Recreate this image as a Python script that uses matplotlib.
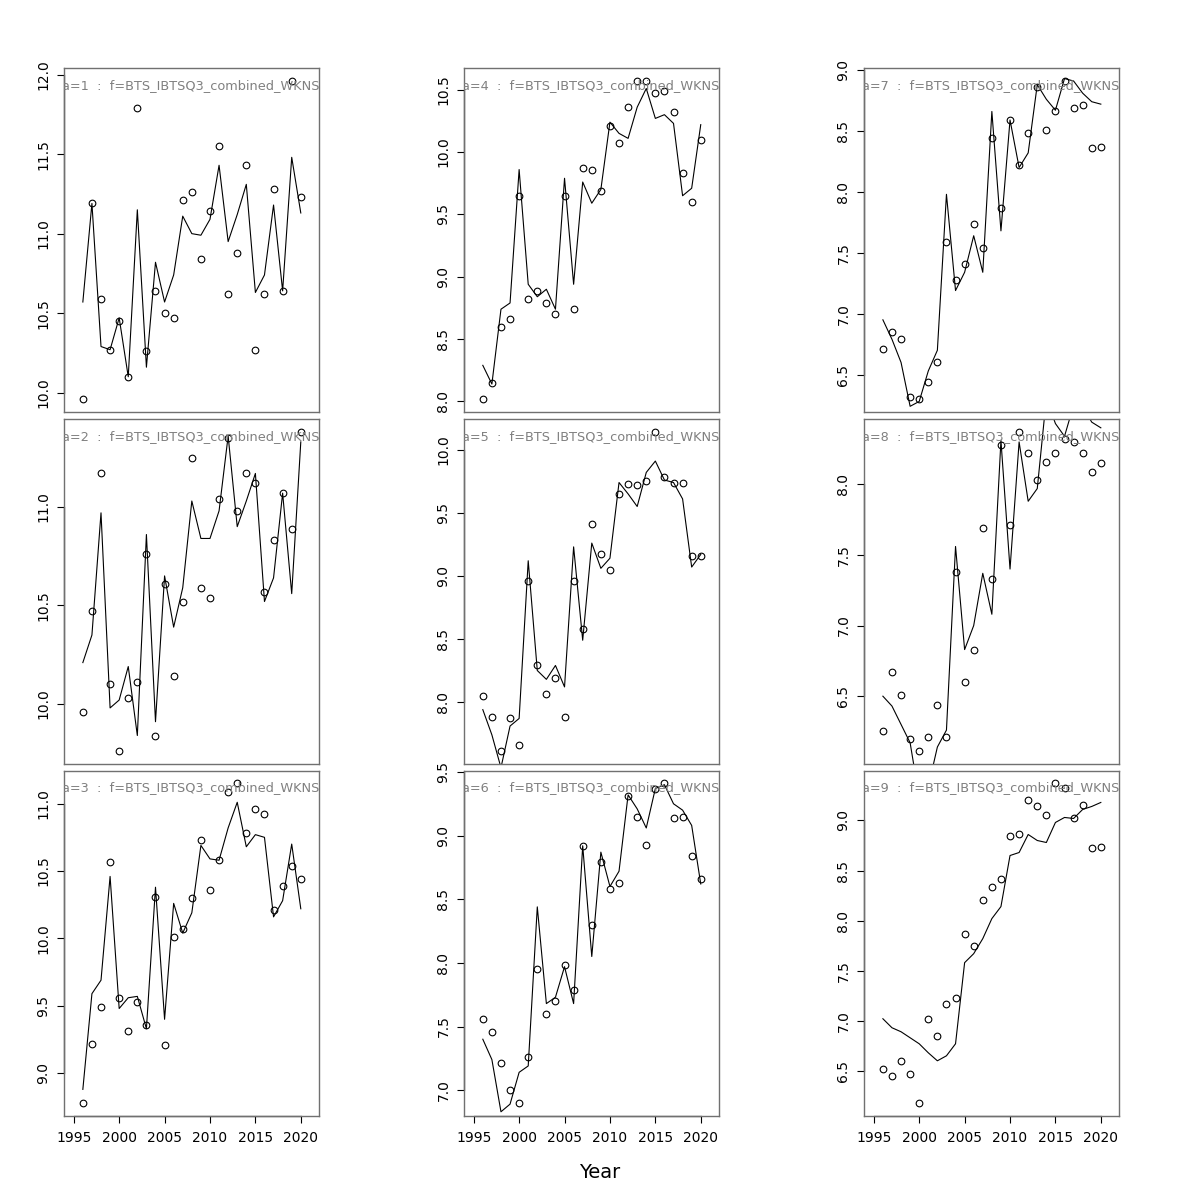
#Observed and fitted values per age, survey index BTS_IBTSQ3_combined_WKNS
import matplotlib
matplotlib.use('Agg')
import matplotlib.pyplot as plt
from matplotlib.ticker import MultipleLocator, FormatStrFormatter

years = list(range(1996, 2021))
fleet = 'BTS_IBTSQ3_combined_WKNS'

#Observed points (circles)
obs1 = [9.96, 11.19, 10.59, 10.27, 10.45, 10.10, 11.79, 10.26, 10.64, 10.50, 10.47, 11.21, 11.26,
        10.84, 11.14, 11.55, 10.62, 10.88, 11.43, 10.27, 10.62, 11.28, 10.64, 11.96, 11.23]
obs2 = [9.96, 10.47, 11.17, 10.10, 9.76, 10.03, 10.11, 10.76, 9.84, 10.61, 10.14, 10.52, 11.25,
        10.59, 10.54, 11.04, 11.35, 10.98, 11.17, 11.12, 10.57, 10.83, 11.07, 10.89, 11.38]
obs3 = [8.78, 9.22, 9.49, 10.57, 9.56, 9.31, 9.53, 9.36, 10.31, 9.21, 10.01, 10.07, 10.30,
        10.73, 10.36, 10.58, 11.09, 11.15, 10.78, 10.96, 10.92, 10.21, 10.39, 10.54, 10.44]
obs4 = [8.02, 8.15, 8.60, 8.66, 9.65, 8.82, 8.89, 8.79, 8.70, 9.65, 8.74, 9.87, 9.86,
        9.69, 10.21, 10.07, 10.36, 10.57, 10.57, 10.47, 10.49, 10.32, 9.83, 9.60, 10.10]
obs5 = [8.05, 7.88, 7.61, 7.87, 7.66, 8.96, 8.29, 8.06, 8.19, 7.88, 8.96, 8.58, 9.41,
        9.17, 9.05, 9.65, 9.73, 9.72, 9.75, 10.14, 9.78, 9.74, 9.74, 9.16, 9.16]
obs6 = [7.56, 7.46, 7.21, 7.00, 6.90, 7.26, 7.95, 7.60, 7.70, 7.98, 7.79, 8.92, 8.30,
        8.79, 8.58, 8.63, 9.31, 9.15, 8.93, 9.37, 9.41, 9.14, 9.15, 8.84, 8.66]
obs7 = [6.71, 6.85, 6.79, 6.32, 6.30, 6.44, 6.60, 7.59, 7.28, 7.41, 7.74, 7.54, 8.44,
        7.87, 8.59, 8.22, 8.48, 8.86, 8.51, 8.66, 8.91, 8.69, 8.71, 8.36, 8.37]
obs8 = [6.25, 6.67, 6.51, 6.20, 6.11, 6.21, 6.44, 6.21, 7.38, 6.60, 6.83, 7.69, 7.33,
        8.28, 7.71, 8.37, 8.22, 8.03, 8.16, 8.22, 8.32, 8.30, 8.22, 8.09, 8.15]
obs9 = [6.52, 6.45, 6.60, 6.47, 6.18, 7.02, 6.85, 7.17, 7.23, 7.87, 7.75, 8.21, 8.34,
        8.42, 8.84, 8.86, 9.20, 9.14, 9.05, 9.37, 9.32, 9.02, 9.15, 8.73, 8.74]

#Fitted values (lines)
fit1 = [10.57, 11.19, 10.29, 10.27, 10.47, 10.10, 11.15, 10.16, 10.82, 10.57, 10.74, 11.11, 11.00,
        10.99, 11.09, 11.43, 10.95, 11.12, 11.31, 10.63, 10.74, 11.18, 10.64, 11.48, 11.13]
fit2 = [10.21, 10.35, 10.97, 9.98, 10.02, 10.19, 9.84, 10.86, 9.91, 10.65, 10.39, 10.59, 11.03,
        10.84, 10.84, 10.98, 11.36, 10.90, 11.03, 11.17, 10.52, 10.64, 11.07, 10.56, 11.33]
fit3 = [8.88, 9.59, 9.69, 10.46, 9.48, 9.56, 9.57, 9.33, 10.38, 9.40, 10.26, 10.04, 10.19,
        10.69, 10.59, 10.58, 10.82, 11.01, 10.68, 10.77, 10.75, 10.16, 10.28, 10.70, 10.22]
fit4 = [8.29, 8.14, 8.74, 8.79, 9.86, 8.94, 8.84, 8.90, 8.74, 9.79, 8.94, 9.76, 9.59,
        9.70, 10.24, 10.15, 10.11, 10.36, 10.51, 10.27, 10.30, 10.23, 9.65, 9.71, 10.22]
fit5 = [7.94, 7.74, 7.48, 7.81, 7.87, 9.12, 8.25, 8.18, 8.29, 8.12, 9.23, 8.49, 9.26,
        9.06, 9.14, 9.74, 9.65, 9.55, 9.82, 9.91, 9.76, 9.74, 9.61, 9.07, 9.17]
fit6 = [7.40, 7.24, 6.83, 6.89, 7.14, 7.19, 8.44, 7.68, 7.73, 7.97, 7.68, 8.92, 8.05,
        8.87, 8.60, 8.72, 9.32, 9.21, 9.06, 9.37, 9.40, 9.25, 9.20, 9.08, 8.62]
fit7 = [6.95, 6.79, 6.60, 6.24, 6.28, 6.53, 6.70, 7.98, 7.19, 7.34, 7.64, 7.34, 8.66,
        7.68, 8.59, 8.20, 8.32, 8.88, 8.76, 8.67, 8.93, 8.91, 8.81, 8.74, 8.72]
fit8 = [6.50, 6.43, 6.30, 6.17, 5.78, 5.86, 6.14, 6.26, 7.56, 6.83, 7.00, 7.37, 7.08,
        8.31, 7.40, 8.30, 7.88, 7.97, 8.61, 8.43, 8.34, 8.56, 8.55, 8.44, 8.40]
fit9 = [7.02, 6.93, 6.89, 6.83, 6.77, 6.68, 6.60, 6.65, 6.77, 7.58, 7.67, 7.82, 8.02,
        8.14, 8.65, 8.68, 8.86, 8.80, 8.78, 8.98, 9.03, 9.02, 9.11, 9.14, 9.18]

all_obs = [obs1, obs2, obs3, obs4, obs5, obs6, obs7, obs8, obs9]
all_fit = [fit1, fit2, fit3, fit4, fit5, fit6, fit7, fit8, fit9]

fig = plt.figure(figsize=(12, 12), dpi=100)

#Panel boxes in figure fractions (3x3, filled column by column)
lefts = [0.0536, 0.3869, 0.7203]
bottoms = [0.6569, 0.3633, 0.0703]
heights = [0.2862, 0.2873, 0.2875]
width = 0.2125

box_col = '#707070'

for i in range(9):
    col = i // 3
    row = i % 3
    ax = fig.add_axes([lefts[col], bottoms[row], width, heights[row]])
    obs = all_obs[i]
    fit = all_fit[i]

    ax.plot(years, fit, color='black', linewidth=0.8)
    ax.plot(years, obs, linestyle='none', marker='o', markersize=4.8,
            markerfacecolor='none', markeredgecolor='black', markeredgewidth=0.8)

    #R style limits: range of the observations plus 4%
    lo, hi = min(obs), max(obs)
    pad = 0.04 * (hi - lo)
    ax.set_ylim(lo - pad, hi + pad)
    ax.set_xlim(1995 - 0.04 * 26, 2021 + 0.04 * 26)

    for s in ax.spines.values():
        s.set_color(box_col)
        s.set_linewidth(1.0)

    ax.yaxis.set_major_locator(MultipleLocator(0.5))
    ax.yaxis.set_major_formatter(FormatStrFormatter('%.1f'))
    ax.tick_params(axis='y', direction='out', length=5, width=0.8, color='black',
                   labelsize=10, pad=5, labelrotation=90)
    for lab in ax.get_yticklabels():
        lab.set_va('center')

    #black axis line between the first and last tick
    yt = [t for t in ax.get_yticks() if lo - pad <= t <= hi + pad]
    ax.plot([0, 0], [yt[0], yt[-1]], transform=ax.get_yaxis_transform(),
            color='black', linewidth=0.9, clip_on=False)

    if row == 2:
        ax.set_xticks([1995, 2000, 2005, 2010, 2015, 2020])
        ax.tick_params(axis='x', direction='out', length=5, width=0.8, color='black',
                       labelsize=10, pad=6)
        ax.plot([1995, 2020], [0, 0], transform=ax.get_xaxis_transform(),
                color='black', linewidth=0.9, clip_on=False)
    else:
        ax.set_xticks([])

    #label starts a little left of the box, so it gets clipped like the original
    ax.text(-0.01, 0.94, 'a=' + str(i + 1) + '  :  f=' + fleet + 'MS', transform=ax.transAxes,
            ha='left', va='baseline', fontsize=9.3, color='#808080', clip_on=True)

fig.text(0.5, 0.0233, 'Year', ha='center', va='center', fontsize=14)

fig.savefig('out.png', dpi=100)
